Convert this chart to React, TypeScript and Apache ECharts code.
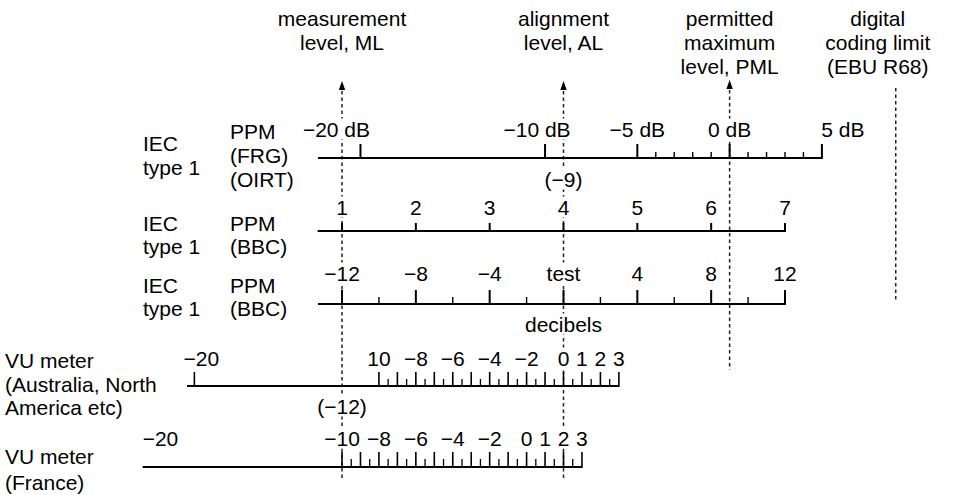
import React, { useEffect, useRef } from "react";
import * as echarts from "echarts";

// ---------- shared horizontal scale: dB relative to alignment level (AL = 0) ----------
const AXIS_MIN = -30.53;
const AXIS_MAX = 21.59;

// reference levels (dB re AL)
const refNames: string[][] = [
  ["measurement", "level, ML"],
  ["alignment", "level, AL"],
  ["permitted", "maximum", "level, PML"],
  ["digital", "coding limit", "(EBU R68)"],
];
const refLevels = [-12, 0, 9, 18];
const refHasArrow = [true, true, true, false];

// IEC type 1 PPM (FRG)(OIRT), dB; alignment level reads -9 dB
const frgAlignment = -9;
const frgMajor = [-20, -10, -5, 0, 5];
const frgLabels = ["−20 dB", "−10 dB", "−5 dB", "0 dB", "5 dB"];
const frgMinor = [-4, -3, -2, -1, 1, 2, 3, 4];
const frgExtent = [-22.3, 5];

// IEC type 1 PPM (BBC), marks 1–7, 4 dB per mark, AL at mark 4
const bbcMarks = [1, 2, 3, 4, 5, 6, 7];
const bbcMarkLabels = ["1", "2", "3", "4", "5", "6", "7"];
const bbcAlignmentMark = 4;
const bbcDbPerMark = 4;
const bbcExtent = [0.67, 7];

// IEC type 1 PPM (BBC), decibels re test
const bbcDbMajor = [-12, -8, -4, 0, 4, 8, 12];
const bbcDbLabels = ["−12", "−8", "−4", "test", "4", "8", "12"];
const bbcDbMinor = [-10, -6, -2, 2, 6, 10];
const bbcDbExtent = [-13.3, 12];

// VU meter (Australia, North America etc): 0 VU = AL
const vuAusAlignment = 0;
const vuAusMajor = [-20, -10, -9, -8, -7, -6, -5, -4, -3, -2, -1, 0, 1, 2, 3];
const vuAusMinor = [-9.5, -8.5, -7.5, -6.5, -5.5, -4.5, -3.5, -2.5, -1.5, -0.5, 0.5, 1.5, 2.5];
const vuAusLabelAt = [-20, -10, -8, -6, -4, -2, 0, 1, 2, 3];
const vuAusLabels = ["−20", "10", "−8", "−6", "−4", "−2", "0", "1", "2", "3"];
const vuAusExtent = [-20.4, 3];

// VU meter (France): +2 VU = AL
const vuFrAlignment = 2;
const vuFrMajor = [-10, -9, -8, -7, -6, -5, -4, -3, -2, -1, 0, 1, 2, 3];
const vuFrMinor = [-9.5, -8.5, -7.5, -6.5, -5.5, -4.5, -3.5, -2.5, -1.5, -0.5, 0.5, 1.5, 2.5];
const vuFrLabelAt = [-20, -10, -8, -6, -4, -2, 0, 1, 2, 3];
const vuFrLabels = ["−20", "−10", "−8", "−6", "−4", "−2", "0", "1", "2", "3"];
const vuFrExtent = [-20.8, 3];

// annotations (dB re AL)
const noteTexts = ["(−9)", "decibels", "(−12)"];
const noteLevels = [0, 0, -12];

// ---------- layout (pixels) ----------
const W = 962;
const H = 495;
const FONT = '21px "Liberation Sans", Arial, Helvetica, sans-serif';
const refTop = [91, 91, 90, 88];
const refBottom = [478, 478, 370, 300];
const arrowTip = [81, 81, 80, 0];
const headerDx = [0, 0, 0, -18];
const headerY0 = 18;
const headerGap = 24;
const noteY = [179, 324, 406];

const frgLabelDx = [-24, -8, 0, 0, 21];
const vuAusLabelDx = [7, 0, 0, 0, 0, 0, 0, 0, 0, 0];
const vuFrLabelDx = [3, 0, 0, 0, 0, 0, 0, 0, 0, 0];

const rowTexts: { x: number; y: number; t: string }[] = [
  { x: 143, y: 143, t: "IEC" },
  { x: 143, y: 167, t: "type 1" },
  { x: 230, y: 131, t: "PPM" },
  { x: 230, y: 155, t: "(FRG)" },
  { x: 230, y: 179, t: "(OIRT)" },
  { x: 143, y: 223, t: "IEC" },
  { x: 143, y: 246, t: "type 1" },
  { x: 230, y: 223, t: "PPM" },
  { x: 230, y: 246, t: "(BBC)" },
  { x: 143, y: 285, t: "IEC" },
  { x: 143, y: 308, t: "type 1" },
  { x: 230, y: 285, t: "PPM" },
  { x: 230, y: 308, t: "(BBC)" },
  { x: 5, y: 360, t: "VU meter" },
  { x: 5, y: 384, t: "(Australia, North" },
  { x: 5, y: 407, t: "America etc)" },
  { x: 5, y: 456, t: "VU meter" },
  { x: 5, y: 482, t: "(France)" },
];

function textEl(x: number, y: number, text: string, masked = true) {
  const style: any = {
    text,
    font: FONT,
    fill: "#000",
    align: "center",
    verticalAlign: "middle",
    textAlign: "center",
    textVerticalAlign: "middle",
  };
  if (masked) {
    style.backgroundColor = "#fff";
    style.padding = [0, 1];
  }
  return { type: "text", x, y, style };
}

function baselineSeries(extent: number[], toRel: (v: number) => number, base: number) {
  return {
    type: "line",
    silent: true,
    symbol: "none",
    data: [
      [toRel(extent[0]), base],
      [toRel(extent[1]), base],
    ],
    lineStyle: { color: "#000", width: 2 },
    z: 3,
  };
}

function tickSeries(values: number[], toRel: (v: number) => number, base: number, len: number, width: number) {
  return {
    type: "custom",
    silent: true,
    z: 3,
    data: values.map((v) => [toRel(v), base]),
    renderItem: (_params: any, api: any) => {
      const p = api.coord([api.value(0), api.value(1)]);
      return {
        type: "line",
        shape: { x1: p[0], y1: p[1] + 1, x2: p[0], y2: p[1] - len },
        style: { stroke: "#000", lineWidth: width },
      };
    },
  };
}

function labelSeries(values: number[], labels: string[], toRel: (v: number) => number, y: number, dx?: number[]) {
  return {
    type: "custom",
    silent: true,
    z: 4,
    data: values.map((v) => [toRel(v), y]),
    renderItem: (params: any, api: any) => {
      const p = api.coord([api.value(0), api.value(1)]);
      const off = dx ? dx[params.dataIndex] : 0;
      return textEl(p[0] + off, p[1], labels[params.dataIndex]);
    },
  };
}

function buildOption() {
  const frgRel = (v: number) => v - frgAlignment;
  const bbcRel = (m: number) => (m - bbcAlignmentMark) * bbcDbPerMark;
  const dbRel = (v: number) => v;
  const vuAusRel = (v: number) => v - vuAusAlignment;
  const vuFrRel = (v: number) => v - vuFrAlignment;

  const series: any[] = [];

  // reference dashed lines with arrows
  series.push({
    type: "custom",
    silent: true,
    z: 2,
    data: refLevels.map((d) => [d, 0]),
    renderItem: (params: any, api: any) => {
      const i = params.dataIndex;
      const top = api.coord([api.value(0), refTop[i]]);
      const bot = api.coord([api.value(0), refBottom[i]]);
      const children: any[] = [
        {
          type: "line",
          shape: { x1: top[0], y1: top[1], x2: bot[0], y2: bot[1] },
          style: { stroke: "#222", lineWidth: 1.5, lineDash: [3.5, 3] },
        },
      ];
      if (refHasArrow[i]) {
        const tip = api.coord([api.value(0), arrowTip[i]]);
        children.push({
          type: "polygon",
          shape: {
            points: [
              [tip[0], tip[1]],
              [tip[0] - 3.2, tip[1] + 9],
              [tip[0] + 3.2, tip[1] + 9],
            ],
          },
          style: { fill: "#000" },
        });
      }
      return { type: "group", children };
    },
  });

  // header texts
  series.push({
    type: "custom",
    silent: true,
    z: 4,
    data: refLevels.map((d) => [d, headerY0]),
    renderItem: (params: any, api: any) => {
      const i = params.dataIndex;
      const p = api.coord([api.value(0), api.value(1)]);
      return {
        type: "group",
        children: refNames[i].map((line, k) => textEl(p[0] + headerDx[i], p[1] + k * headerGap, line, false)),
      };
    },
  });

  // Row 1: FRG / OIRT
  series.push(baselineSeries(frgExtent, frgRel, 158));
  series.push(tickSeries(frgMajor, frgRel, 158, 14, 2));
  series.push(tickSeries(frgMinor, frgRel, 158, 6, 1.4));
  series.push(labelSeries(frgMajor, frgLabels, frgRel, 129, frgLabelDx));

  // Row 2: BBC marks
  series.push(baselineSeries(bbcExtent, bbcRel, 231));
  series.push(tickSeries(bbcMarks, bbcRel, 231, 8, 2));
  series.push(labelSeries(bbcMarks, bbcMarkLabels, bbcRel, 207));

  // Row 3: BBC decibels
  series.push(baselineSeries(bbcDbExtent, dbRel, 304));
  series.push(tickSeries(bbcDbMajor, dbRel, 304, 14, 2));
  series.push(tickSeries(bbcDbMinor, dbRel, 304, 7, 1.4));
  series.push(labelSeries(bbcDbMajor, bbcDbLabels, dbRel, 273));

  // Row 4: VU Australia / North America
  series.push(baselineSeries(vuAusExtent, vuAusRel, 386));
  series.push(tickSeries(vuAusMajor, vuAusRel, 386, 14, 1.6));
  series.push(tickSeries(vuAusMinor, vuAusRel, 386, 7, 1.3));
  series.push(labelSeries(vuAusLabelAt, vuAusLabels, vuAusRel, 358, vuAusLabelDx));

  // Row 5: VU France
  series.push(baselineSeries(vuFrExtent, vuFrRel, 467));
  series.push(tickSeries(vuFrMajor, vuFrRel, 467, 15, 1.6));
  series.push(tickSeries(vuFrMinor, vuFrRel, 467, 8, 1.3));
  series.push(labelSeries(vuFrLabelAt, vuFrLabels, vuFrRel, 438, vuFrLabelDx));

  // annotations
  series.push({
    type: "custom",
    silent: true,
    z: 4,
    data: noteLevels.map((d, i) => [d, noteY[i]]),
    renderItem: (params: any, api: any) => {
      const p = api.coord([api.value(0), api.value(1)]);
      return textEl(p[0], p[1], noteTexts[params.dataIndex]);
    },
  });

  return {
    animation: false,
    backgroundColor: "#fff",
    grid: { left: 0, right: 0, top: 0, bottom: 0, containLabel: false },
    xAxis: { type: "value", min: AXIS_MIN, max: AXIS_MAX, show: false },
    yAxis: { type: "value", min: 0, max: H, inverse: true, show: false },
    series,
    graphic: rowTexts.map((r) => ({
      type: "text",
      x: r.x,
      y: r.y,
      silent: true,
      style: {
        text: r.t,
        font: FONT,
        fill: "#000",
        align: "left",
        verticalAlign: "middle",
        textAlign: "left",
        textVerticalAlign: "middle",
      },
    })),
  };
}

export default function App() {
  const ref = useRef<HTMLDivElement>(null);
  useEffect(() => {
    if (!ref.current) return;
    const chart = echarts.init(ref.current, undefined, { renderer: "svg" });
    chart.setOption(buildOption() as any);
    return () => chart.dispose();
  }, []);
  return (
    <div
      ref={ref}
      style={{ position: "absolute", left: 0, top: 0, width: W, height: H, background: "#fff" }}
    />
  );
}
